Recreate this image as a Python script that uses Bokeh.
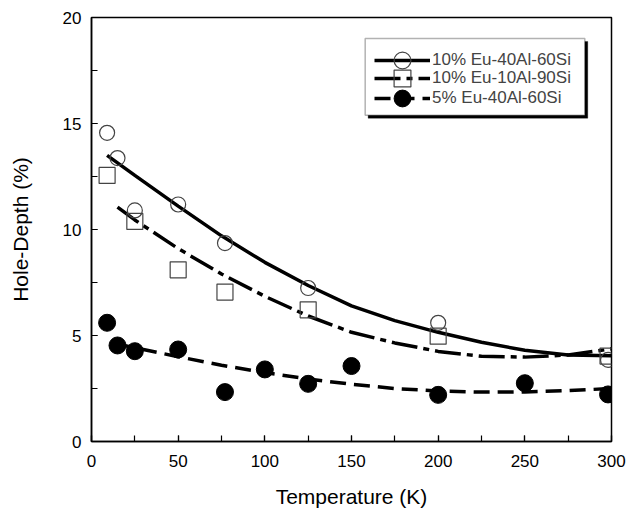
from bokeh.plotting import figure
from bokeh.models import (Legend, LegendItem, SingleIntervalTicker, BoxAnnotation, Range1d)
from bokeh.embed import file_html
from bokeh.resources import INLINE

# ---- data ----
t_a = [9, 15, 25, 50, 77, 125, 200, 298]
y_a = [14.56, 13.37, 10.9, 11.18, 9.36, 7.24, 5.6, 3.85]          # 10% Eu-40Al-60Si (open circles)
t_b = [9, 25, 50, 77, 125, 200, 298]
y_b = [12.55, 10.38, 8.1, 7.05, 6.21, 4.97, 4.03]                   # 10% Eu-10Al-90Si (open squares)
t_c = [9, 15, 25, 50, 77, 100, 125, 150, 200, 250, 298]
y_c = [5.6, 4.53, 4.26, 4.34, 2.33, 3.4, 2.72, 3.56, 2.2, 2.75, 2.22]  # 5% Eu-40Al-60Si (filled circles)

# fitted curves, read at points along each drawn line
fit_a_t = [9, 25, 50, 75, 100, 125, 150, 175, 200, 225, 250, 275, 300]
fit_a_y = [13.5, 12.55, 11.1, 9.7, 8.45, 7.36, 6.4, 5.7, 5.15, 4.68, 4.3, 4.08, 4.05]
fit_b_t = [15, 25, 50, 75, 100, 125, 150, 175, 200, 225, 250, 275, 300]
fit_b_y = [11.06, 10.45, 9.1, 7.9, 6.85, 5.92, 5.15, 4.65, 4.25, 4.02, 3.98, 4.08, 4.37]
fit_c_t = [15, 25, 50, 75, 100, 125, 150, 175, 200, 225, 250, 275, 300]
fit_c_y = [4.6, 4.42, 4.0, 3.6, 3.25, 2.95, 2.7, 2.5, 2.38, 2.33, 2.34, 2.4, 2.5]

labels = ["10% Eu-40Al-60Si", "10% Eu-10Al-90Si", "5% Eu-40Al-60Si"]

FONT = "Liberation Sans"

p = figure(frame_width=520, frame_height=424, output_backend="svg", toolbar_location=None,
           x_range=Range1d(0, 300), y_range=Range1d(0, 20),
           min_border_left=91, min_border_top=17, min_border_right=16, min_border_bottom=40)
p.xgrid.visible = False
p.ygrid.visible = False
p.outline_line_color = "black"
p.outline_line_width = 1.5
p.outline_line_alpha = 1.0

# legend frame: drop shadow + white box with border (drawn behind the legend entries)
shadow = BoxAnnotation(left=159.6, right=286.3, top=18.87, bottom=15.25,
                       fill_color="black", fill_alpha=1.0, line_color="black", line_width=1)
box = BoxAnnotation(left=157.9, right=284.6, top=19.01, bottom=15.39,
                    fill_color="white", fill_alpha=1.0, line_color="black", line_width=1.5)
p.add_layout(shadow)
p.add_layout(box)

la = p.line(fit_a_t, fit_a_y, line_color="black", line_width=3.5)
lb = p.line(fit_b_t, fit_b_y, line_color="black", line_width=3.5, line_dash="26 6 6 6")
lc = p.line(fit_c_t, fit_c_y, line_color="black", line_width=3.5, line_dash="16 8")

sa = p.scatter(t_a, y_a, marker="circle", size=15, fill_color=None, line_color="#444444", line_width=1.2)
sb = p.scatter(t_b, y_b, marker="square", size=16, fill_color=None, line_color="#444444", line_width=1.2)
sc = p.scatter(t_c, y_c, marker="circle", size=17, fill_color="black", line_color="black")

for ax in (p.xaxis[0], p.yaxis[0]):
    ax.axis_line_width = 1.5
    ax.major_tick_in = 6
    ax.major_tick_out = 0
    ax.minor_tick_in = 6
    ax.minor_tick_out = 0
    ax.major_tick_line_width = 1.2
    ax.minor_tick_line_width = 1.2
    ax.major_label_text_font = FONT
    ax.major_label_text_font_size = "17px"
    ax.major_label_text_color = "black"
    ax.axis_label_text_font = FONT
    ax.axis_label_text_font_size = "21px"
    ax.axis_label_text_font_style = "normal"
    ax.axis_label_text_color = "black"

p.xaxis.ticker = SingleIntervalTicker(interval=50, num_minor_ticks=2)
p.yaxis.ticker = SingleIntervalTicker(interval=5, num_minor_ticks=2)
p.xaxis.axis_label = "Temperature (K)"
p.yaxis.axis_label = "Hole-Depth (%)"
p.xaxis.major_label_standoff = 13
p.yaxis.major_label_standoff = 10
p.xaxis.axis_label_standoff = 15
p.yaxis.axis_label_standoff = 28

# one single-entry legend per row, so the keys can be tall enough for full-size markers
rows = [(labels[0], [la, sa], 360), (labels[1], [lb, sb], 342), (labels[2], [lc, sc], 322)]
for lab, rends, vy in rows:
    lg = Legend(items=[LegendItem(label=lab, renderers=rends)],
                location=(283, vy), margin=0, padding=0, spacing=0,
                label_height=42, glyph_height=42, glyph_width=56, label_standoff=2,
                label_text_font=FONT, label_text_font_size="17px",
                border_line_color=None, background_fill_alpha=0.0)
    p.add_layout(lg)

open("out.html", "w").write(file_html(p, INLINE))
